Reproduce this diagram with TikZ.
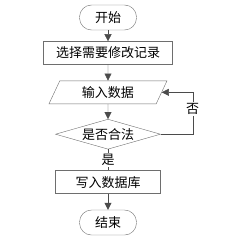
\documentclass[tikz,border=0pt]{standalone}
\usepackage{fontspec}
\setmainfont{Noto Sans CJK SC}
\usetikzlibrary{positioning,shapes.geometric,arrows.meta}
\definecolor{linegray}{RGB}{75,75,75}
\definecolor{boxgray}{RGB}{110,110,110}

\begin{document}
\begin{tikzpicture}[
  x=1pt, y=-1pt,
  node distance = 11pt,
  term/.style = {
    draw=boxgray, rectangle, rounded corners=12pt,
    minimum width=57pt, minimum height=25pt,
    font=\fontsize{13}{15}\selectfont
  },
  block/.style = {
    draw=boxgray, rectangle,
    minimum height=23pt, inner xsep=6pt,
    font=\fontsize{13}{15}\selectfont
  },
  io/.style = {
    draw=boxgray, trapezium, trapezium left angle=60, trapezium right angle=120,
    trapezium stretches body, minimum width=118pt, minimum height=23pt,
    font=\fontsize{13}{15}\selectfont
  },
  test/.style = {
    draw=boxgray, diamond, aspect=3.5, inner sep=0pt,
    minimum width=105pt, minimum height=30pt,
    font=\fontsize{13}{15}\selectfont
  },
  line/.style = {draw=linegray, -{Triangle[length=7pt,width=7pt]}}
]
\useasboundingbox (0,0) rectangle (230,243);

\node[term] (start) at (108,17.5) {开始};
\node[block, below = 11pt of start, minimum width=129pt] (select) {选择需要修改记录};
\node[io, below = 16pt of select] (input) {输入数据};
\node[test, below = 15pt of input] (check) {是否合法};
\node[block, below = 21pt of check, minimum width=105pt] (write) {写入数据库};
\node[term, below = 16pt of write] (stop) {结束};

\draw[line] (start) -- (select);
\draw[line] (select) -- (input);
\draw[line] (input) -- (check);
\draw[draw=linegray] (check) -- node[fill=white, inner sep=1pt, font=\fontsize{13}{15}\selectfont] {是} (write);
\draw[line] (write) -- (stop);
\draw[line] (check.east) -- ++(32,0) coordinate (turn)
  |- node[pos=0.3, fill=white, inner sep=1pt, font=\fontsize{13}{15}\selectfont] {否} (input.east);

\end{tikzpicture}
\end{document}
